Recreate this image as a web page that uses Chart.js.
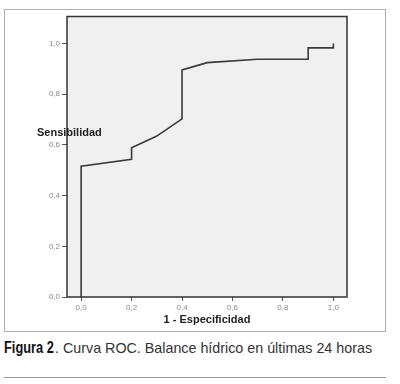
<!DOCTYPE html>
<html>
<head>
<meta charset="utf-8">
<script src="https://cdn.jsdelivr.net/npm/chart.js@4"></script>
<style>
  body { margin: 0; background: #fff; width: 400px; height: 384px; position: relative; overflow: hidden; }
  #frame { position: absolute; left: 4px; top: 9px; width: 380px; height: 321px; border: 1px solid #b0b0b0; }
  #wrap { position: absolute; left: 0; top: 0; width: 400px; height: 335px; }
  #ytitle { position: absolute; left: 37px; top: 126px; font: bold 11px "Liberation Sans", Arial, sans-serif; color: #222; }
  #caption { position: absolute; left: 4px; top: 339px; font: 14.3px "Liberation Sans", Arial, sans-serif; color: #333; white-space: nowrap; }
  #caption b { display: inline-block; width: 51px; transform: scaleX(0.8); transform-origin: left center; font: bold 16px "Liberation Sans", Arial, sans-serif; color: #111; }
  #rule { position: absolute; left: 4px; top: 377px; width: 382px; height: 1px; background: #999; }
</style>
</head>
<body>
<div id="frame"></div>
<div id="wrap"><canvas id="rocChart"></canvas></div>
<div id="ytitle">Sensibilidad</div>
<div id="caption"><b>Figura 2</b>. Curva ROC. Balance hídrico en últimas 24 horas</div>
<div id="rule"></div>
<script>
// puntos de la curva ROC (1 - especificidad, sensibilidad)
const fpr = [0, 0, 0.2, 0.2, 0.3, 0.4, 0.4, 0.5, 0.7, 0.9, 0.9, 1.0, 1.0];
const tpr = [0, 0.516, 0.543, 0.589, 0.635, 0.703, 0.896, 0.925, 0.938, 0.938, 0.983, 0.983, 1.0];
const tickVals = [0, 0.2, 0.4, 0.6, 0.8, 1.0];

const ctx = document.getElementById('rocChart');

const fmt = v => v.toFixed(1).replace('.', ',');

// fondo gris y marco del area de trazado
const plotBox = {
  id: 'plotBox',
  beforeDraw(chart) {
    const a = chart.chartArea;
    const c = chart.ctx;
    c.save();
    c.fillStyle = '#f0f0f0';
    c.fillRect(a.left, a.top, a.right - a.left, a.bottom - a.top);
    c.restore();
  },
  afterDraw(chart) {
    const a = chart.chartArea;
    const c = chart.ctx;
    c.save();
    c.strokeStyle = '#333';
    c.lineWidth = 1.5;
    c.strokeRect(a.left, a.top, a.right - a.left, a.bottom - a.top);
    c.restore();
  }
};

const data = {
  datasets: [{
    label: 'ROC',
    data: fpr.map((x, i) => ({ x: x, y: tpr[i] })),
    borderColor: '#3a3a3a',
    borderWidth: 1.6,
    pointRadius: 0,
    tension: 0,
    fill: false
  }]
};

const config = {
  type: 'line',
  data,
  options: {
    responsive: true,
    maintainAspectRatio: false,
    animation: false,
    layout: { padding: { top: 16.5, right: 53, left: 0, bottom: 0 } },
    plugins: { legend: { display: false }, tooltip: { enabled: false } },
    scales: {
      x: {
        type: 'linear',
        min: -0.056,
        max: 1.054,
        afterBuildTicks: s => { s.ticks = tickVals.map(v => ({ value: v })); },
        afterFit: s => { s.height = 38; },
        grid: { drawOnChartArea: false, tickLength: 4, color: '#555', lineWidth: 1 },
        border: { display: false },
        ticks: {
          callback: v => fmt(v),
          color: '#888',
          font: { family: 'Liberation Sans', size: 8 },
          padding: 2,
          maxRotation: 0
        },
        title: {
          display: true,
          text: '1 - Especificidad',
          color: '#222',
          font: { family: 'Liberation Sans', size: 11, weight: 'bold' },
          padding: { top: 0, bottom: 8 }
        }
      },
      y: {
        min: 0,
        max: 1.107,
        afterBuildTicks: s => { s.ticks = tickVals.map(v => ({ value: v })); },
        afterFit: s => { s.width = 67; },
        grid: { drawOnChartArea: false, tickLength: 5, color: '#555', lineWidth: 1 },
        border: { display: false },
        ticks: {
          callback: v => fmt(v),
          color: '#888',
          font: { family: 'Liberation Sans', size: 8 },
          padding: 2
        }
      }
    }
  },
  plugins: [plotBox]
};

let myChart = new Chart(ctx, config);
</script>
</body>
</html>
